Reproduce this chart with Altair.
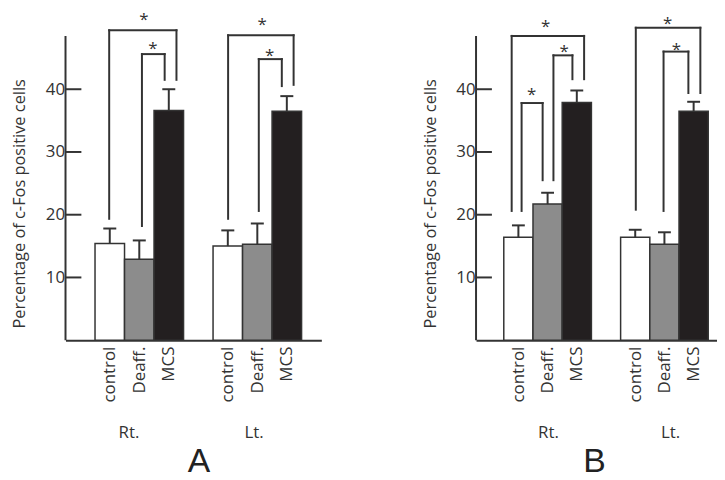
import altair as alt
import pandas as pd

# ---------------- data ----------------
conditions = ["control", "Deaff.", "MCS", "control", "Deaff.", "MCS"]
sides = ["Rt.", "Rt.", "Rt.", "Lt.", "Lt.", "Lt."]
bar_start = [1, 2, 3, 5, 6, 7]
fills = ["#ffffff", "#8c8c8c", "#231f20", "#ffffff", "#8c8c8c", "#231f20"]

a_means = [15.4, 12.9, 36.6, 15.0, 15.3, 36.5]
a_sems = [2.4, 3.0, 3.4, 2.5, 3.3, 2.4]
b_means = [16.4, 21.7, 37.9, 16.4, 15.3, 36.5]
b_sems = [1.9, 1.8, 1.9, 1.2, 1.9, 1.5]

y_ticks = [10, 20, 30, 40]

# brackets: [x_left, x_right, y_left_bottom, y_top, y_right_bottom]
a_brackets = [
    [1.48, 3.76, 19.35, 49.4, 41.5],
    [2.59, 3.36, 18.2, 45.6, 41.5],
    [5.51, 7.73, 19.35, 48.6, 40.7],
    [6.55, 7.33, 20.6, 44.8, 40.5],
]
a_stars = [[2.66, 51.6], [2.96, 47.0], [6.66, 50.8], [6.92, 45.9]]

b_brackets = [
    [1.27, 3.75, 20.6, 48.5, 41.6],
    [1.61, 2.33, 20.6, 37.8, 25.5],
    [2.70, 3.35, 25.5, 45.4, 41.6],
    [5.52, 7.73, 20.8, 49.8, 39.4],
    [6.47, 7.32, 20.6, 46.0, 39.4],
]
b_stars = [[2.43, 50.6], [1.95, 39.7], [3.07, 46.6], [6.61, 51.0], [6.91, 46.9]]

side_names = ["Rt.", "Lt."]
a_side_x = [2.15, 6.39]
b_side_x = [2.53, 6.71]

# ---------------- style ----------------
INK = "#333333"
FONT = "Open Sans"
HEIGHT = 329
YMAX = 52


def label_expr():
    centers = [s + 0.5 for s in bar_start]
    expr = "''"
    for c, name in reversed(list(zip(centers, conditions))):
        expr = f"abs(datum.value - {c}) < 0.1 ? '{name}' : ({expr})"
    return expr


def panel(means, sems, brackets, stars, side_x, xdom, width, letter, letter_x, axis_top):
    df = pd.DataFrame({
        "cond": conditions,
        "side": sides,
        "x0": bar_start,
        "x1": [s + 1 for s in bar_start],
        "xc": [s + 0.5 for s in bar_start],
        "cl": [s + 0.28 for s in bar_start],
        "cr": [s + 0.72 for s in bar_start],
        "mean": means,
        "upper": [m + e for m, e in zip(means, sems)],
        "fill": fills,
    })
    xs = alt.Scale(domain=xdom, nice=False, zero=False)
    ys = alt.Scale(domain=[0, YMAX], nice=False)

    xaxis = alt.Axis(
        values=[s + 0.5 for s in bar_start], labelExpr=label_expr(),
        labelAngle=270, labelAlign="right", labelBaseline="middle",
        labelPadding=6, labelFontSize=17, labelFont=FONT, labelColor=INK,
        labelOverlap=False, labelFlush=False,
        ticks=False, tickSize=0, grid=False,
        domainColor=INK, domainWidth=2,
        title=letter, titleFont="Liberation Sans", titleFontSize=34,
        titleFontWeight="normal", titleColor="#222222",
        titleX=letter_x, titleY=132, titleAlign="center", titleBaseline="alphabetic",
    )
    yaxis = alt.Axis(
        values=y_ticks, domain=False, ticks=False, tickSize=0, grid=False,
        labelFontSize=17, labelFont=FONT, labelColor=INK, labelPadding=1,
        title="Percentage of c-Fos positive cells", titleFont=FONT,
        titleFontSize=16.5, titleFontWeight="normal", titleColor=INK,
        titleAngle=270, titleX=-46, titleY=191, titleAlign="center",
        titleBaseline="middle",
    )

    bars = alt.Chart(df).mark_bar(stroke=INK, strokeWidth=1.5).encode(
        x=alt.X("x0:Q", scale=xs, axis=xaxis),
        x2="x1:Q",
        y=alt.Y("mean:Q", scale=ys, axis=yaxis),
        y2=alt.datum(0),
        fill=alt.Fill("fill:N", scale=None),
    )
    stems = alt.Chart(df).mark_rule(color=INK, strokeWidth=2).encode(
        x="xc:Q", y="mean:Q", y2="upper:Q")
    caps = alt.Chart(df).mark_rule(color=INK, strokeWidth=2).encode(
        x="cl:Q", x2="cr:Q", y="upper:Q")

    segs = []
    for xl, xr, ylb, yt, yrb in brackets:
        segs.append({"x": xl, "x2": xl, "y": ylb, "y2": yt})
        segs.append({"x": xl, "x2": xr, "y": yt, "y2": yt})
        segs.append({"x": xr, "x2": xr, "y": yt, "y2": yrb})
    bdf = pd.DataFrame(segs)
    brk = alt.Chart(bdf).mark_rule(color=INK, strokeWidth=2, strokeCap="square").encode(
        x="x:Q", x2="x2:Q", y="y:Q", y2="y2:Q")

    sdf = pd.DataFrame({"x": [s[0] for s in stars], "y": [s[1] for s in stars], "t": ["*"] * len(stars)})
    star = alt.Chart(sdf).mark_text(fontSize=17, font=FONT, color=INK, baseline="middle", dy=4).encode(
        x="x:Q", y="y:Q", text="t:N")

    axis_df = pd.DataFrame({"y0": [0], "y1": [axis_top]})
    yline = alt.Chart(axis_df).mark_rule(color=INK, strokeWidth=2).encode(
        x=alt.value(0), y="y0:Q", y2="y1:Q")
    tdf = pd.DataFrame({"v": y_ticks})
    ticks = alt.Chart(tdf).mark_rule(color=INK, strokeWidth=2).encode(
        x=alt.value(0), x2=alt.value(16), y="v:Q")

    side_df = pd.DataFrame({"x": side_x, "t": side_names})
    side_txt = alt.Chart(side_df).mark_text(fontSize=17, font=FONT, color=INK, baseline="middle").encode(
        x="x:Q", y=alt.value(HEIGHT + 93.5), text="t:N")

    return alt.layer(bars, stems, caps, brk, star, yline, ticks, side_txt).properties(
        width=width, height=HEIGHT)


pa = panel(a_means, a_sems, a_brackets, a_stars, a_side_x, [0, 8.67], 258, "A", 134, 48.5)
pb = panel(b_means, b_sems, b_brackets, b_stars, b_side_x, [0.05, 8.30], 243, "B", 119, 48.5)

chart = alt.hconcat(pa, pb, spacing=101).properties(
    padding={"left": 3, "top": 1, "right": 0, "bottom": 0}
).configure_view(stroke=None)

chart.save("out.html", embed_options={"renderer": "svg", "actions": False})
